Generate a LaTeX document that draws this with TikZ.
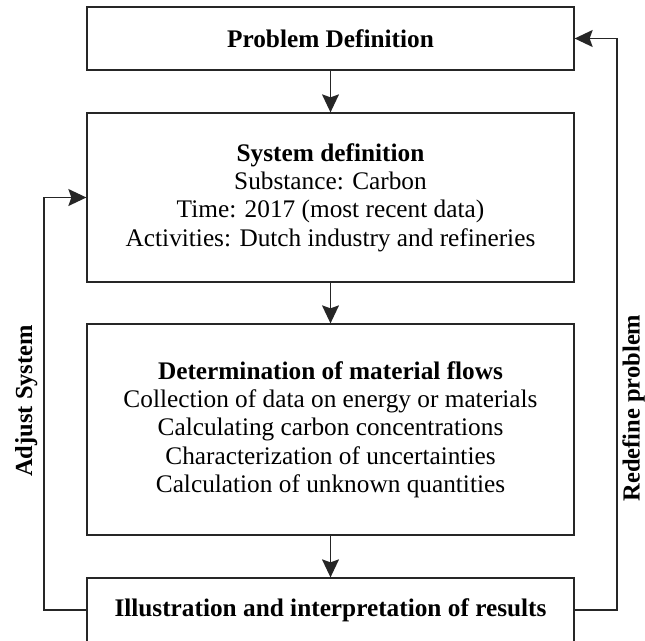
\documentclass[tikz,border=0pt]{standalone}
\usepackage{fontspec}
\setmainfont{Liberation Serif}
\usetikzlibrary{arrows.meta}
\begin{document}
\begin{tikzpicture}[x=1pt,y=-1pt,
  box/.style={draw=black!85,line width=1.3pt,minimum width=487pt,align=center,
    inner sep=0pt,font=\fontsize{25.3}{28.3}\selectfont},
  conn/.style={draw=black!85,line width=1.3pt,-{Stealth[length=18pt,width=17pt,inset=3pt]}},
  side/.style={font=\fontsize{24.5}{28.2}\selectfont\bfseries,rotate=90,anchor=base,inner sep=0pt}]
\useasboundingbox (0,0) rectangle (645,640);
\begin{scope}
\clip (0,0) rectangle (645,640);
\node[box,minimum height=63pt] (pd) at (330.5,38.5) {\textbf{Problem Definition}};
\node[box,minimum height=169pt] (sd) at (330.5,197.5) {\textbf{System definition}\\Substance: Carbon\\Time: 2017 (most recent data)\\Activities: Dutch industry and refineries};
\node[box,minimum height=211pt] (mf) at (330.5,429.5) {\textbf{Determination of material flows}\\Collection of data on energy or materials\\Calculating carbon concentrations\\Characterization of uncertainties\\Calculation of unknown quantities};
\node[box,minimum height=64pt] (ir) at (330.5,610) {\textbf{Illustration and interpretation of results}};
\coordinate (l1) at (44,610);
\coordinate (l2) at (44,197.5);
\coordinate (r1) at (617,610);
\coordinate (r2) at (617,38.5);
\draw[conn] (pd.south) -- (sd.north);
\draw[conn] (sd.south) -- (mf.north);
\draw[conn] (mf.south) -- (ir.north);
\draw[conn] (ir.west) -- (l1) -- (l2) -- (sd.west);
\draw[conn] (ir.east) -- (r1) -- (r2) -- (pd.east);
\node[side] (as) at (32,401) {Adjust System};
\node[side] (rp) at (639.5,408) {Redefine problem};
\end{scope}
\end{tikzpicture}
\end{document}
